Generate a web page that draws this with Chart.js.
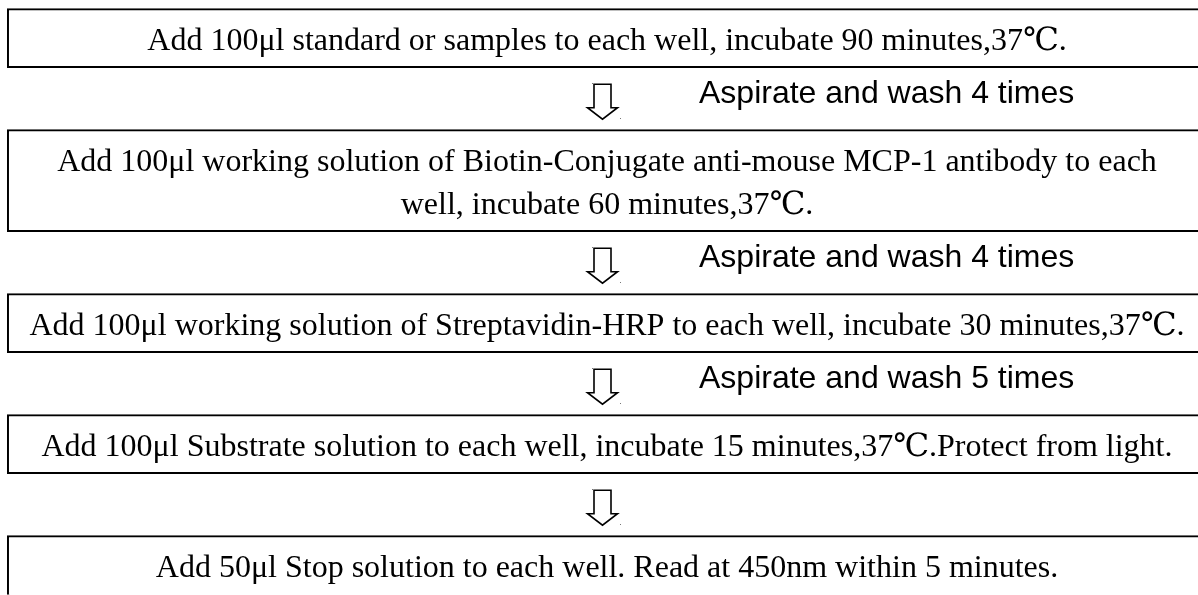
<!DOCTYPE html>
<html lang="en">
<head>
    <meta charset="UTF-8">
    <title>ELISA procedure</title>
    <script src="https://cdn.jsdelivr.net/npm/chart.js"></script>
    <style>
        html, body {
            margin: 0;
            padding: 0;
            background: #fff;
        }

        .chart-container {
            width: 1198px;
            height: 595px;
            position: relative;
        }
    </style>
</head>
<body>
<div class="chart-container">
    <canvas id="flowChart"></canvas>
</div>

<script>
    // Steps of the protocol (one entry per box, one string per text line)
    const steps = [
        ['Add 100μl standard or samples to each well, incubate 90 minutes,37℃.'],
        ['Add 100μl working solution of Biotin-Conjugate anti-mouse MCP-1 antibody to each',
         'well, incubate 60 minutes,37℃.'],
        ['Add 100μl working solution of Streptavidin-HRP to each well, incubate 30 minutes,37℃.'],
        ['Add 100μl Substrate solution to each well, incubate 15 minutes,37℃.Protect from light.'],
        ['Add 50μl Stop solution to each well. Read at 450nm within 5 minutes.']
    ];

    // Text next to the arrow between two boxes
    const washes = [
        'Aspirate and wash 4 times',
        'Aspirate and wash 4 times',
        'Aspirate and wash 5 times',
        ''
    ];

    // Layout (scale units = pixels of the page)
    const W = 1198, H = 595;
    const BOX_LEFT = 7.3, BOX_RIGHT = 1206.7;
    const FIRST_TOP = 8.7, LINE = 43, PAD = 16, GAP = 62;
    const SERIF = '32px "Liberation Serif", "DejaVu Serif", serif';
    const SANS = '32px "Liberation Sans", Arial, sans-serif';

    // box centres and heights follow from the number of text lines
    let boxTop = FIRST_TOP;
    const boxes = steps.map(lines => {
        const h = PAD + lines.length * LINE;
        const box = { center: boxTop + h / 2, height: h };
        boxTop += h + GAP;
        return box;
    });

    const datasets = boxes.map((b, i) => ({
        data: [{ y: b.center, x: [BOX_LEFT, BOX_RIGHT] }],
        barThickness: b.height,
        grouped: false,
        backgroundColor: '#ffffff',
        borderColor: '#000000',
        borderWidth: 2,
        borderSkipped: i === boxes.length - 1 ? 'bottom' : false
    }));

    // Draws the box texts, the arrows and the wash notes
    const flowPlugin = {
        id: 'flow',
        afterDatasetsDraw(chart) {
            const ctx = chart.ctx;
            const els = chart.data.datasets.map((d, i) =>
                chart.getDatasetMeta(i).data[0].getProps(['x', 'y', 'base', 'height'], true));

            ctx.save();
            ctx.fillStyle = '#000';
            ctx.textBaseline = 'alphabetic';

            // box texts
            ctx.font = SERIF;
            ctx.textAlign = 'center';
            els.forEach((el, i) => {
                const lines = steps[i];
                const cx = (el.base + el.x) / 2;
                const first = el.y - (lines.length - 1) * LINE / 2 + 11.5;
                lines.forEach((t, k) => ctx.fillText(t, cx, first + k * LINE));
            });

            // arrows + wash notes
            for (let i = 0; i < els.length - 1; i++) {
                const gapTop = els[i].y + els[i].height / 2;
                const ax = (els[i].base + els[i].x) / 2 - 4.5;
                const t0 = gapTop + 16.5, hs = gapTop + 40, tip = gapTop + 51.5;

                ctx.beginPath();
                ctx.moveTo(ax - 8.5, hs);
                ctx.lineTo(ax - 8.5, t0);
                ctx.lineTo(ax + 8.5, t0);
                ctx.lineTo(ax + 8.5, hs);
                ctx.lineTo(ax + 15, hs);
                ctx.lineTo(ax, tip);
                ctx.lineTo(ax - 15, hs);
                ctx.closePath();
                ctx.lineWidth = 1.6;
                ctx.strokeStyle = '#000';
                ctx.lineJoin = 'miter';
                ctx.stroke();

                // little specks left by the original arrow picture
                ctx.fillStyle = '#777';
                ctx.fillRect(Math.round(ax - 11), Math.round(gapTop + 15), 1, 1);
                ctx.fillRect(Math.round(ax + 17), Math.round(gapTop + 50), 1, 1);
                ctx.fillStyle = '#000';

                if (washes[i]) {
                    ctx.font = SANS;
                    ctx.textAlign = 'left';
                    ctx.fillText(washes[i], ax + 96.5, gapTop + 35);
                }
            }
            ctx.restore();
        }
    };

    new Chart(document.getElementById('flowChart').getContext('2d'), {
        type: 'bar',
        data: { datasets: datasets },
        options: {
            indexAxis: 'y',
            responsive: true,
            maintainAspectRatio: false,
            animation: false,
            events: [],
            layout: { padding: 0 },
            plugins: {
                legend: { display: false },
                tooltip: { enabled: false }
            },
            scales: {
                x: { type: 'linear', min: 0, max: W, offset: false, display: false },
                y: { type: 'linear', min: 0, max: H, reverse: true, offset: false, display: false }
            }
        },
        plugins: [flowPlugin]
    });
</script>
</body>
</html>
